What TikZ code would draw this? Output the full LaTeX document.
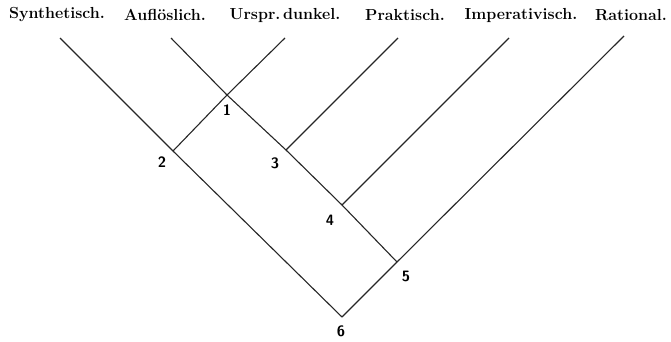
\documentclass[tikz,border=0pt]{standalone}
\usepackage{tikz}
\usetikzlibrary{positioning}

\begin{document}
\begin{tikzpicture}[x=1pt,y=-1pt,
    lbl/.style={font=\fontsize{16}{18}\selectfont\bfseries, inner sep=0pt},
    num/.style={font=\fontsize{15}{17}\selectfont\sffamily\bfseries, inner sep=0pt},
    ln/.style={line width=1.1pt, black!85}]
    \useasboundingbox (0,0) rectangle (671,341);
    \node[lbl] (lS) at (57,15) {Synthetisch.};
    \node[lbl] (lA) at (165,15) {Auflöslich.};
    \node[lbl] (lU) at (285,15) {Urspr.\,dunkel.};
    \node[lbl] (lP) at (405,15) {Praktisch.};
    \node[lbl] (lI) at (521,15) {Imperativisch.};
    \node[lbl] (lR) at (631,15) {Rational.};
    \coordinate (tS) at (60,38);
    \coordinate (tA) at (171,38);
    \coordinate (tU) at (285,38);
    \coordinate (tP) at (398,38);
    \coordinate (tI) at (509,38);
    \coordinate (tR) at (624,36);
    \coordinate (v1) at (227,95);
    \coordinate (v2) at (173,151);
    \coordinate (v3) at (286,150);
    \coordinate (v4) at (342,205);
    \coordinate (v5) at (397,262);
    \coordinate (v6) at (342,317);
    \draw[ln] (tS) -- (v2) -- (v6);
    \draw[ln] (tA) -- (v1) -- (v3) -- (v4) -- (v5);
    \draw[ln] (tU) -- (v1) -- (v2);
    \draw[ln] (tP) -- (v3);
    \draw[ln] (tI) -- (v4);
    \draw[ln] (tR) -- (v5) -- (v6);
    \node[num] (n1) at (227,110) {1};
    \node[num] (n2) at (162,162) {2};
    \node[num] (n3) at (275,163) {3};
    \node[num] (n4) at (330,220) {4};
    \node[num] (n5) at (406,276) {5};
    \node[num] (n6) at (341,331) {6};
\end{tikzpicture}
\end{document}
